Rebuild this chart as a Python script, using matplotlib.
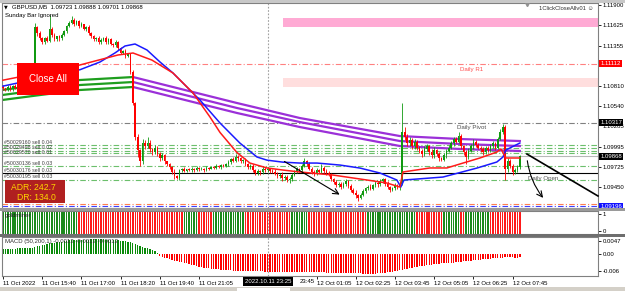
import matplotlib
matplotlib.use("Agg")
import matplotlib.pyplot as plt
from matplotlib.patches import Rectangle
from matplotlib.transforms import blended_transform_factory
import numpy as np

plt.rcParams['font.family'] = ['Liberation Sans', 'DejaVu Sans']

# prices are stored as pips above 1.09000
BASE = 1.09
PIP = 0.0001

first_open = 180
closes = [
    178, 176, 180, 177, 181, 179, 182, 180, 183, 181,
    184, 182, 180, 260, 252, 245, 240, 246, 242, 258,
    250, 244, 248, 245, 250, 255, 262, 266, 270, 265,
    268, 262, 264, 258, 260, 252, 248, 244, 246, 240,
    243, 246, 240, 244, 238, 236, 240, 232, 226, 228,
    222, 224, 200, 158, 113, 95, 80, 104, 100, 105,
    96, 92, 98, 90, 84, 88, 80, 76, 72, 66,
    60, 58, 68, 70, 67, 69, 68, 70, 68, 71,
    69, 70, 68, 71, 70, 72, 71, 74, 72, 75,
    74, 76, 79, 83, 81, 86, 84, 80, 82, 76,
    72, 74, 68, 64, 67, 65, 70, 68, 70, 67,
    66, 63, 60, 62, 57, 59, 55, 56, 62, 66,
    69, 68, 74, 80, 76, 70, 66, 63, 68, 66,
    71, 67, 64, 62, 56, 52, 48, 50, 46, 49,
    53, 47, 42, 38, 34, 31, 35, 40, 44, 46,
    43, 48, 51, 49, 53, 56, 50, 45, 42, 44,
    48, 46, 50, 120, 112, 104, 108, 100, 106, 98,
    94, 90, 96, 100, 93, 88, 95, 90, 84, 82,
    88, 94, 98, 104, 110, 106, 114, 100, 92, 86,
    94, 100, 106, 102, 98, 96, 92, 98, 95, 100,
    104, 98, 110, 120, 126, 70, 80, 74, 66, 68,
    72, 86.8,
]
wick_up = [
    2, 1, 2, 2, 1, 3, 2, 1, 2, 2,
    1, 2, 3, 6, 2, 3, 2, 1, 3, 19,
    2, 3, 1, 2, 3, 2, 1, 2, 5, 3,
    2, 2, 3, 1, 2, 3, 2, 2, 1, 3,
    2, 1, 3, 2, 2, 1, 3, 2, 2, 1,
    3, 2, 2, 3, 2, 3, 2, 6, 4, 8,
    3, 2, 4, 2, 2, 3, 2, 1, 2, 2,
    3, 2, 2, 1, 2, 1, 2, 2, 1, 2,
    1, 2, 1, 2, 1, 2, 1, 2, 1, 2,
    2, 2, 3, 2, 3, 4, 2, 2, 1, 3,
    2, 2, 3, 2, 2, 1, 3, 2, 2, 1,
    2, 3, 2, 2, 3, 2, 2, 3, 2, 2,
    3, 2, 2, 5, 2, 3, 2, 2, 3, 2,
    5, 2, 2, 3, 2, 2, 3, 2, 2, 3,
    3, 2, 2, 2, 3, 2, 2, 3, 2, 2,
    3, 2, 2, 2, 3, 2, 2, 3, 2, 2,
    3, 2, 2, 38, 6, 4, 5, 3, 4, 3,
    2, 3, 4, 3, 2, 3, 4, 2, 3, 2,
    3, 2, 4, 3, 3, 2, 5, 3, 2, 3,
    4, 3, 4, 2, 3, 2, 3, 2, 3, 3,
    3, 2, 3, 4, 4, 3, 4, 3, 2, 3,
    3, 2,
]
wick_dn = [
    2, 2, 1, 3, 2, 2, 1, 2, 3, 2,
    2, 1, 2, 4, 3, 2, 3, 2, 2, 2,
    3, 2, 2, 3, 2, 2, 2, 1, 2, 3,
    2, 3, 2, 2, 3, 2, 2, 3, 2, 2,
    3, 2, 2, 3, 2, 2, 2, 3, 2, 2,
    3, 2, 3, 3, 5, 9, 6, 3, 3, 2,
    3, 3, 2, 3, 4, 2, 3, 3, 2, 3,
    4, 2, 3, 2, 2, 2, 1, 2, 2, 1,
    2, 1, 2, 1, 2, 1, 2, 2, 1, 2,
    2, 2, 2, 3, 2, 2, 3, 2, 2, 3,
    3, 2, 2, 3, 2, 3, 2, 2, 2, 3,
    2, 2, 3, 2, 3, 2, 3, 4, 2, 2,
    2, 3, 2, 2, 3, 2, 3, 3, 2, 2,
    2, 3, 2, 2, 3, 3, 3, 2, 3, 2,
    2, 3, 3, 2, 3, 4, 2, 2, 2, 3,
    2, 2, 2, 3, 2, 2, 3, 2, 3, 2,
    2, 3, 4, 2, 3, 4, 3, 3, 4, 3,
    3, 4, 3, 2, 4, 3, 3, 3, 4, 2,
    2, 3, 2, 2, 3, 2, 2, 4, 3, 10,
    3, 2, 3, 3, 2, 3, 4, 2, 3, 2,
    2, 3, 2, 2, 3, 15, 4, 3, 4, 3,
    2, 2,
]

# moving averages, read at knots (bar index, pips)
blue_i = [0, 31.4, 39.6, 45.7, 49.8, 53.9, 58.8, 64.1, 69.4, 75.1, 80.4, 88.6, 96.7,
          103.7, 107.8, 114.3, 121.2, 128.2, 137.6, 145.7, 153.9, 160.8, 162.4, 163.7,
          179.6, 193.5, 201.6, 204.1, 205.3, 211]
blue_p = [181, 203, 213.4, 225.5, 234.9, 237.6, 229.5, 213.4, 198.6, 179.8, 162.3, 131.4, 104.5,
          85.7, 81.5, 78.8, 77.6, 77.6, 74.9, 70.9, 64.2, 54.8, 45.4, 54.8,
          58.8, 70.9, 79, 85.7, 95.2, 104.5]
red_i = [0, 31.4, 46.9, 53.1, 60.8, 69.4, 77.6, 84.5, 88.6, 95.5, 100.8, 107.8, 114.3,
         121.2, 134.7, 148.6, 156.7, 162, 163.3, 174.3, 181.2, 187.8, 194.7, 201.6,
         203.3, 205.3, 211]
red_p = [189, 209.4, 222.8, 225.5, 216, 198.6, 171.7, 139.5, 118.7, 91.8, 77.6, 71, 68.2,
         65.6, 61.5, 54.8, 50.8, 45.4, 65.6, 71, 71, 77.6, 84.4, 92.4,
         96.5, 84.4, 84.4]

ribbon_up_i = [-0.4, 15.1, 31.4, 53.1]
ribbon_up = [[175.8, 182.5, 189.2, 193.2],
             [169.0, 175.8, 182.5, 186.5],
             [162.3, 169.0, 175.8, 179.8]]
ribbon_dn_i = [53.1, 95.5, 121.2, 162, 186.5, 211]
ribbon_dn = [[193.2, 158.3, 138.1, 113.9, 109.9, 107.2],
             [186.5, 151.6, 132.7, 107.2, 103.2, 100.5],
             [179.8, 144.9, 126.0, 100.5, 96.5, 93.8]]

daily_r1 = 1.11112
daily_pivot = 1.10317
daily_open = 1.09646
bid = 1.09868
order_levels = [1.10018, 1.09978, 1.09944, 1.09911, 1.09730, 1.09548]
order_labels = ['#50029160 sell 0.04', '#50029498 sell 0.02', '#50029570 sell 0.01',
                '#50030136 sell 0.03', '#50030176 sell 0.03', '#50030195 sell 0.03']
order_label_p = [104.9, 99.1, 92.4, 77.6, 68.2, 60.1]
low_orange = 1.09222
low_blue = 1.09196

macd_hist = [  # x 1e-4
    17, 17, 18, 18, 19, 19, 20, 20, 21, 21,
    22, 22, 23, 26, 28, 30, 32, 34, 36, 38,
    40, 41, 43, 44, 45, 47, 48, 49, 49, 50,
    50, 51, 51, 52, 52, 52, 53, 53, 53, 53,
    53, 53, 52, 52, 52, 51, 50, 49, 48, 47,
    46, 44, 43, 41, 37, 33, 30, 26, 23, 20,
    17, 14, 10, 5, -7, -10, -13, -16, -19, -22,
    -24, -26, -28, -30, -32, -34, -36, -39, -41, -44,
    -46, -48, -49, -50, -52, -53, -54, -55, -56, -57,
    -57, -58, -59, -59, -60, -60, -61, -61, -61, -62,
    -62, -62, -62, -63, -63, -63, -63, -64, -64, -64,
    -64, -65, -65, -65, -66, -66, -66, -66, -65, -65,
    -65, -65, -66, -66, -66, -66, -66, -66, -66, -66,
    -66, -66, -67, -67, -67, -67, -67, -68, -68, -68,
    -68, -67, -67, -67, -68, -69, -70, -71, -71, -72,
    -72, -71, -71, -70, -69, -68, -67, -66, -65, -64,
    -62, -60, -59, -57, -55, -53, -52, -50, -48, -46,
    -45, -43, -42, -40, -39, -38, -37, -36, -35, -34,
    -34, -33, -32, -31, -31, -30, -29, -28, -27, -26,
    -25, -24, -23, -22, -21, -20, -19, -18, -17, -17,
    -16, -15, -14, -13, -13, -12, -12, -12, -12, -13,
    -13, -12,
]
gm_start = [0, 31, 74, 80, 86, 99, 118, 125, 149, 169, 180, 187, 189, 199]
gm_state = [1, 0, 1, 0, 1, 0, 1, 0, 1, 0, 1, 0, 1, 0]

# the 22:25 and 23:45 labels sit under the crosshair date box
time_pos = [0, 16, 32, 48, 64, 80, 128, 144, 160, 176, 192, 208]
time_labels = ['11 Oct 2022', '11 Oct 15:40', '11 Oct 17:00', '11 Oct 18:20',
               '11 Oct 19:40', '11 Oct 21:05',
               '12 Oct 01:05', '12 Oct 02:25', '12 Oct 03:45', '12 Oct 05:05',
               '12 Oct 06:25', '12 Oct 07:45']
price_ticks = [1.11900, 1.11625, 1.11355, 1.10810, 1.10540,
               1.09995, 1.09725, 1.09450]
cross_bar = 108
day_start = 115


def px(p):
    return BASE + np.asarray(p, float) * PIP


W, H = 625, 291
fig = plt.figure(figsize=(W / 100, H / 100), dpi=100)
fig.patch.set_facecolor('white')


def frame(y0, y1):
    return [2 / W, 1 - y1 / H, 596 / W, (y1 - y0) / H]


ax = fig.add_axes(frame(3, 208))
ax_gm = fig.add_axes(frame(211, 234), sharex=ax)
ax_m = fig.add_axes(frame(237, 276), sharex=ax)

n = len(closes)
idx = np.arange(n)
c = np.array(closes, float)
o = np.concatenate([[first_open], c[:-1]])
hi = np.maximum(o, c) + np.array(wick_up)
lo = np.minimum(o, c) - np.array(wick_dn)
col = np.where(c >= o, '#109a10', '#ff0000')

GREEN_L = '#6cbf6c'
dd = (0, (5, 2, 1, 2))

# zones
for top, bot, fc in [(272.5, 260.4, '#ffaad4'), (191.9, 179.4, '#ffdede')]:
    ax.add_patch(Rectangle((day_start - 0.5, px(bot)), 300, (top - bot) * PIP,
                           fc=fc, ec='none', zorder=0.5))

ax.axhline(daily_r1, color='#ff8080', ls=dd, lw=0.8, zorder=1)
ax.axhline(daily_pivot, color='#808080', ls=dd, lw=0.8, zorder=1)
for lv in order_levels:
    ax.axhline(lv, color=GREEN_L, ls=dd, lw=0.8, zorder=1)
ax.axhline(bid, color='#b8b8b8', lw=0.8, zorder=1)
ax.axhline(daily_open, color='black', lw=0.8, zorder=1)
ax.axhline(low_orange, color='#ff7f50', ls=dd, lw=0.8, zorder=1)
ax.axhline(low_blue, color='#4040ff', ls=dd, lw=0.8, zorder=1)

for a in (ax, ax_gm, ax_m):
    a.axvline(cross_bar, color='#a0a0a0', ls=(0, (1.5, 1.5)), lw=0.8, zorder=1.2)

for line in ribbon_up:
    ax.plot(ribbon_up_i, px(line), color='#1e9e1e', lw=1.6, zorder=2)
for line in ribbon_dn:
    ax.plot(ribbon_dn_i, px(line), color='#9b30d8', lw=1.6, zorder=2)

ax.vlines(idx, px(lo), px(hi), colors=col, lw=0.6, zorder=3)
body = np.maximum(np.abs(c - o), 0.5)
ax.bar(idx, body * PIP, bottom=px(np.minimum(o, c)), width=0.65, color=col,
       lw=0, zorder=3)

ax.plot(blue_i, px(blue_p), color='#1a1aff', lw=1.1, zorder=4)
ax.plot(red_i, px(red_p), color='#ff1a1a', lw=1.1, zorder=4)

# hand drawn arrows
ax.annotate('', xy=(138.4, px(33.3)), xytext=(113.9, px(81.7)),
            arrowprops=dict(arrowstyle='->', color='black', lw=0.8), zorder=5)
ax.plot([213.9, 242.9], px([89.7, 33.3]), color='black', lw=1.2, zorder=5,
        clip_on=False)
ax.annotate('', xy=(221.2, px(27.9)), xytext=(213.9, px(84.4)),
            arrowprops=dict(arrowstyle='->', color='black', lw=0.8,
                            connectionstyle='arc3,rad=0.15'), zorder=5)

ax.text(186.5, px(204.0), 'Daily R1', color='#ff5050', fontsize=4.4, va='center')
ax.text(185.3, px(126.0), 'Daily Pivot', color='#505050', fontsize=4.4, va='center')
ax.text(214.3, px(57.5), 'Daily Open', color='#505050', fontsize=4.4, va='center')
for lab, p in zip(order_labels, order_label_p):
    ax.text(0.6, px(p), lab, color='#404040', fontsize=3.8, va='center', zorder=6)

ax.plot([213.9], [1.1191], marker='v', color='#909090', ms=3, zorder=6, clip_on=False)

ax.set_xlim(-0.4, 242.9)
ax.set_ylim(px(17.2), px(292.7))

# goldminer
gm = np.zeros(n, int)
for s, st in zip(gm_start, gm_state):
    gm[s:] = st
ax_gm.bar(idx, np.ones(n), width=0.6, color=np.where(gm == 1, '#1b8a1b', '#ff1a1a'),
          lw=0, zorder=2)
ax_gm.set_ylim(0, 1)
ax_gm.set_yticks([0.86, 0.14])
ax_gm.set_yticklabels(['1', '0'])

# MACD
mh = np.array(macd_hist) * 1e-4
ax_m.bar(idx, mh, width=0.55, color=np.where(mh >= 0, '#0a8a0a', '#ff0000'), lw=0, zorder=2)
ax_m.set_ylim(-0.00796, 0.00615)
ax_m.set_yticks([0.0047, 0.0, -0.006])
ax_m.set_yticklabels(['0.0047', '0.00', '-0.006'])

ax.set_yticks(price_ticks)
ax.set_yticklabels([f'{t:.5f}' for t in price_ticks])

for a in (ax, ax_gm, ax_m):
    a.yaxis.tick_right()
    a.tick_params(axis='y', labelsize=4.3, length=2, pad=1.5, width=0.6, colors='black')
    a.set_facecolor('white')
    for s in a.spines.values():
        s.set_color('#808080')
        s.set_linewidth(0.8)
for a in (ax, ax_gm):
    a.tick_params(axis='x', bottom=False, labelbottom=False)
ax_m.set_xticks(time_pos)
ax_m.set_xticklabels(time_labels, ha='left')
ax_m.tick_params(axis='x', labelsize=4.3, length=2, pad=1.5, width=0.6)

# price boxes on the right scale
tr = blended_transform_factory(ax.transAxes, ax.transData)
ax.text(1.0075, 1.10262, '1.10285', transform=tr, ha='left', va='center', fontsize=4.3,
        clip_on=False)
for val, fc in [(daily_r1, '#ff0000'), (daily_pivot, '#000000'), (bid, '#000000'),
                (low_blue, '#1010ff')]:
    ax.text(1.004, val, f'{val:.5f}', transform=tr, ha='left', va='center', fontsize=4.3,
            color='white', clip_on=False, zorder=7,
            bbox=dict(boxstyle='square,pad=0.2', fc=fc, ec='none'))

# frame details
for y0, y1, fc in [(0, 2.5, '#c8c8c8'), (208, 211, '#9a9a9a'), (234, 237, '#6e6e6e'),
                   (287, 291, '#d4d0c8')]:
    fig.patches.append(Rectangle((0, 1 - y1 / H), 1, (y1 - y0) / H, fc=fc, ec='none',
                                 transform=fig.transFigure, zorder=0))
fig.patches.append(Rectangle((237 / W, 0), 53 / W, 3 / H, fc='white', ec='none',
                             transform=fig.transFigure, zorder=1))

# UI elements
fig.patches.append(Rectangle((17 / W, 1 - 95 / H), 62 / W, 32 / H, fc='#ff0000', ec='none',
                             transform=fig.transFigure, zorder=10))
fig.text(48 / W, 1 - 79 / H, 'Close All', color='white', fontsize=7, ha='center',
         va='center', zorder=11)
fig.patches.append(Rectangle((5 / W, 1 - 203 / H), 60 / W, 23 / H, fc='#b02020', ec='none',
                             transform=fig.transFigure, zorder=10))
fig.text(56 / W, 1 - 187.5 / H, 'ADR: 242.7', color='#ffd700', fontsize=6.2, ha='right',
         va='center', zorder=11)
fig.text(56 / W, 1 - 197.5 / H, 'DR: 134.0', color='#ffd700', fontsize=6.2, ha='right',
         va='center', zorder=11)

fig.text(4 / W, 1 - 6.5 / H, '▼', fontsize=3.5, va='center', family=['DejaVu Sans'])
fig.text(12 / W, 1 - 6.5 / H, 'GBPUSD,M5  1.09723 1.09888 1.09701 1.09868', fontsize=4.3,
         va='center')
fig.text(5 / W, 1 - 15 / H, 'Sunday Bar Ignored', fontsize=4.3, va='center')
fig.text(594 / W, 1 - 9 / H, '1ClickCloseAllv01 ☺', fontsize=4.2, va='center', ha='right',
         color='#303030')
fig.text(5 / W, 1 - 215 / H, 'goldminer', fontsize=4.3, va='center', color='#202020',
         zorder=11)
fig.text(5 / W, 1 - 241 / H, 'MACD (50,200,1) -0.0012 -0.0012 -0.0012', fontsize=4.3,
         va='center', color='#303030', zorder=11)
fig.text(268 / W, 1 - 281.5 / H, '2022.10.11 23:25', fontsize=4.3, ha='center', va='center',
         color='white', zorder=12, bbox=dict(boxstyle='square,pad=0.3', fc='black', ec='none'))
fig.text(300 / W, 1 - 281.5 / H, '23:45', fontsize=4.3, ha='left', va='center')

fig.savefig('out.png', dpi=100)
